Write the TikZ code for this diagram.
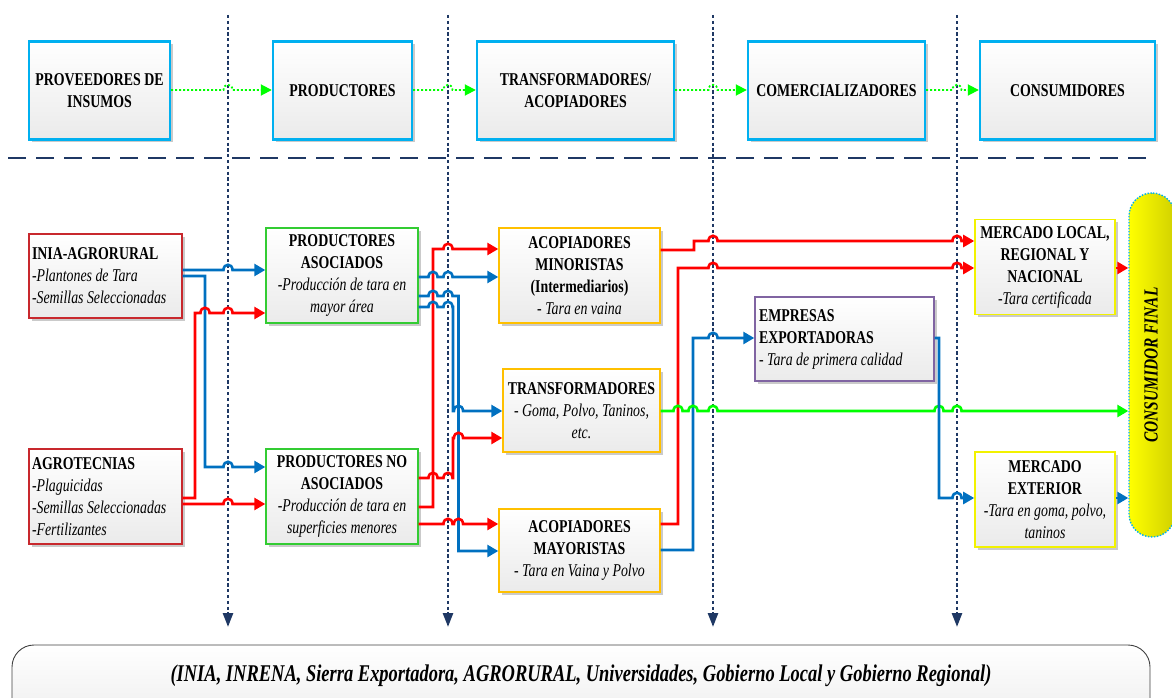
\documentclass[tikz,border=0pt]{standalone}
\usepackage{fontspec}
\setmainfont{Liberation Serif}[FakeStretch=0.77]
\usetikzlibrary{arrows.meta,shadows}
\definecolor{navy}{HTML}{1F3864}
\definecolor{cyanb}{HTML}{00B0F0}
\definecolor{boxred}{HTML}{C8282D}
\definecolor{boxgreen}{HTML}{33CC33}
\definecolor{boxorange}{HTML}{FFC000}
\definecolor{boxpurple}{HTML}{8064A2}
\definecolor{boxyellow}{HTML}{F2F200}
\definecolor{lblue}{HTML}{0070C0}
\definecolor{lred}{HTML}{FF0000}
\definecolor{lgreen}{HTML}{00FF00}
\newcommand\hop[2]{-- ({#1-4.5},#2) .. controls ({#1-4.5},{#2-7}) and ({#1+4.5},{#2-7}) .. ({#1+4.5},#2)}
\begin{document}
\begin{tikzpicture}[x=1pt,y=-1pt,
 box/.style={rectangle, top color=white, bottom color=gray!16, drop shadow={shadow xshift=2.5pt,shadow yshift=-2.5pt,opacity=0.35,fill=black!60}, inner sep=3pt, align=center, font=\fontsize{18}{22}\selectfont},
 topbox/.style={box, draw=cyanb, line width=2.4pt, minimum height=98pt},
 srcbox/.style={box, draw=boxred, line width=1.4pt, minimum width=153pt, align=flush left, text width=147pt},
 prodbox/.style={box, draw=boxgreen, line width=1.4pt, minimum width=152pt, minimum height=95pt},
 acbox/.style={box, draw=boxorange, line width=1.4pt},
 expbox/.style={box, draw=boxpurple, line width=1.4pt, align=flush left},
 mktbox/.style={box, draw=boxyellow, line width=1.6pt, minimum width=140pt, minimum height=95pt},
 flow/.style={line width=2.6pt, -{Triangle[length=11pt,width=12pt]}},
 bflow/.style={flow, draw=lblue},
 rflow/.style={flow, draw=lred},
 gflow/.style={flow, draw=lgreen},
 topflow/.style={draw=lgreen, line width=1.8pt, dash pattern=on 2pt off 2pt, -{Triangle[length=11pt,width=11pt]}},
 vline/.style={draw=navy, line width=2.6pt, dash pattern=on 3.2pt off 2.6pt, -{Triangle[length=14pt,width=10pt]}},
 hline/.style={draw=navy, line width=1.9pt, dash pattern=on 18pt off 10pt},
]
\useasboundingbox (0,0) rectangle (1172,698);

% guide lines
\coordinate (t1) at (228,15);  \coordinate (b1) at (228,627);
\coordinate (t2) at (448,15);  \coordinate (b2) at (448,627);
\coordinate (t3) at (713,15);  \coordinate (b3) at (713,627);
\coordinate (t4) at (957,15);  \coordinate (b4) at (957,627);
\coordinate (hl) at (8,158);   \coordinate (hr) at (1150,158);
\draw[hline] (hl) -- (hr);
\draw[vline] (t1) -- (b1);
\draw[vline] (t2) -- (b2);
\draw[vline] (t3) -- (b3);
\draw[vline] (t4) -- (b4);

% top row
\node[topbox, minimum width=141pt] (prov) at (99.5,90.5) {\textbf{PROVEEDORES DE}\\\textbf{INSUMOS}};
\node[topbox, minimum width=139pt] (prod) at (342.5,90.5) {\textbf{PRODUCTORES}};
\node[topbox, minimum width=197pt] (trans) at (575.5,90.5) {\textbf{TRANSFORMADORES/}\\\textbf{ACOPIADORES}};
\node[topbox, minimum width=177pt] (comer) at (836.5,90.5) {\textbf{COMERCIALIZADORES}};
\node[topbox, minimum width=175pt] (cons) at (1067.5,90.5) {\textbf{CONSUMIDORES}};

\draw[topflow] (prov.east |- 0,90) \hop{228}{90} -- (prod.west |- 0,90);
\draw[topflow] (prod.east |- 0,90) \hop{448}{90} -- (trans.west |- 0,90);
\draw[topflow] (trans.east |- 0,90) \hop{713}{90} -- (comer.west |- 0,90);
\draw[topflow] (comer.east |- 0,90) \hop{957}{90} -- (cons.west |- 0,90);

% lower boxes
\node[srcbox, minimum height=84pt] (ia) at (105.5,276) {\textbf{INIA-AGRORURAL}\\\textit{-Plantones de Tara}\\\textit{-Semillas Seleccionadas}};
\node[srcbox, minimum height=95pt] (ag) at (105.5,496.5) {\textbf{AGROTECNIAS}\\\textit{-Plaguicidas}\\\textit{-Semillas Seleccionadas}\\\textit{-Fertilizantes}};
\node[prodbox] (pa) at (342,275.5) {\textbf{PRODUCTORES}\\\textbf{ASOCIADOS}\\\textit{-Producción de tara en}\\\textit{mayor área}};
\node[prodbox] (pna) at (342,496.5) {\textbf{PRODUCTORES NO}\\\textbf{ASOCIADOS}\\\textit{-Producción de tara en}\\\textit{superficies menores}};
\node[acbox, minimum width=161pt, minimum height=95pt] (amin) at (579.5,275.5) {\textbf{ACOPIADORES}\\\textbf{MINORISTAS}\\\textbf{(Intermediarios)}\\\textit{- Tara en vaina}};
\node[acbox, minimum width=157pt, minimum height=83pt] (tr) at (581.5,410.5) {\textbf{TRANSFORMADORES}\\\textit{- Goma, Polvo, Taninos,}\\\textit{etc.}};
\node[acbox, minimum width=161pt, minimum height=83pt] (amay) at (579.5,550.5) {\textbf{ACOPIADORES}\\\textbf{MAYORISTAS}\\\textit{- Tara en Vaina y Polvo}};
\node[expbox, minimum width=179pt, minimum height=84pt, text width=171pt] (ee) at (844.5,339) {\textbf{EMPRESAS}\\\textbf{EXPORTADORAS}\\\textit{- Tara de primera calidad}};
\node[mktbox] (ml) at (1045,267) {\textbf{MERCADO LOCAL,}\\\textbf{REGIONAL Y}\\\textbf{NACIONAL}\\\textit{-Tara certificada}};
\node[mktbox] (mx) at (1045,499.5) {\textbf{MERCADO}\\\textbf{EXTERIOR}\\\textit{-Tara en goma, polvo,}\\\textit{taninos}};
\node[draw=cyanb, line width=1.4pt, dash pattern=on 1.5pt off 1.5pt, rounded corners=23pt, left color=yellow, right color=yellow!82!black, minimum width=46pt, minimum height=344pt] (cf) at (1152,365) {};
\node[rotate=90, font=\fontsize{20}{24}\selectfont] (cft) at (1151,365) {\textbf{\textit{CONSUMIDOR FINAL}}};

% bottom institutions
\node[draw=black!75, line width=0.9pt, rounded corners=22pt, top color=white, bottom color=gray!14, minimum width=1138pt, minimum height=80pt] (inst) at (581,685) {};
\node[font=\fontsize{24}{28}\selectfont] (instt) at (581,676) {\textbf{\textit{(INIA, INRENA, Sierra Exportadora, AGRORURAL, Universidades, Gobierno Local y Gobierno Regional)}}};

% connectors
\draw[bflow] (ia.east |- 0,270) \hop{228}{270} -- (pa.west |- 0,270);
\draw[bflow] (ia.east |- 0,276) -- (205,276) -- (205,467) \hop{228}{467} -- (pna.west |- 0,467);
\draw[rflow] (ag.east |- 0,498) -- (195,498) -- (195,313) \hop{205}{313} \hop{228}{313} -- (pa.west |- 0,313);
\draw[rflow] (ag.east |- 0,504) \hop{228}{504} -- (pna.west |- 0,504);

\draw[rflow] (pna.east |- 0,507) -- (433,507) -- (433,249) \hop{448}{249} -- (amin.west |- 0,249);
\draw[bflow] (pa.east |- 0,277) \hop{433}{277} \hop{448}{277} -- (amin.west |- 0,277);
\draw[bflow] (pa.east |- 0,296) \hop{433}{296} \hop{448}{296} -- (458.5,296) -- (458.5,551) -- (amay.west |- 0,551);
\draw[bflow] (pa.east |- 0,307) \hop{433}{307} \hop{448}{307} -- (453,307) -- (453,411) \hop{458.5}{411} -- (tr.west |- 0,411);
\draw[rflow] (pna.east |- 0,478) \hop{433}{478} \hop{448}{478} -- (453,478) -- (453,438) \hop{458.5}{438} -- (tr.west |- 0,438);
\draw[rflow] (pna.east |- 0,524) \hop{448}{524} \hop{458.5}{524} -- (amay.west |- 0,524);

\draw[rflow] (amin.east |- 0,250) -- (694,250) -- (694,241) \hop{713}{241} \hop{957}{241} -- (ml.west |- 0,241);
\draw[rflow] (amay.east |- 0,524) -- (678,524) -- (678,268) \hop{713}{268} \hop{957}{268} -- (ml.west |- 0,268);
\draw[bflow] (amay.east |- 0,550) -- (693,550) -- (693,338) \hop{713}{338} -- (ee.west |- 0,338);
\draw[gflow] (tr.east |- 0,411) \hop{678}{411} \hop{693}{411} \hop{713}{411} \hop{939}{411} \hop{957}{411} -- (cf.west |- 0,411);
\draw[bflow] (ee.east |- 0,338) -- (939,338) -- (939,498) \hop{957}{498} -- (mx.west |- 0,498);
\draw[rflow] (ml.east |- 0,268) -- (cf.west |- 0,268);
\draw[bflow] (mx.east |- 0,498) -- (cf.west |- 0,498);
\end{tikzpicture}
\end{document}
